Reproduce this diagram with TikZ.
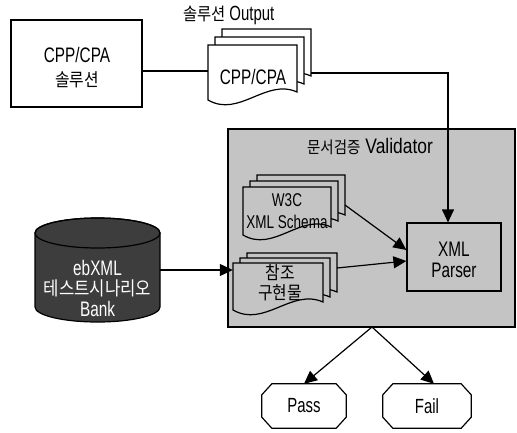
\documentclass[tikz,border=0pt]{standalone}
\usepackage{fontspec}
\setmainfont{Liberation Sans}[FakeStretch=0.73]
\newfontfamily\wide{Liberation Sans}[FakeStretch=0.83]
\newfontfamily\kr{Noto Sans CJK KR}[FakeStretch=0.88]
\usetikzlibrary{arrows.meta}
\definecolor{stip}{gray}{0.77}
\definecolor{bankfill}{gray}{0.24}
\tikzset{
  ln/.style={line width=1.2pt},
  arr/.style={ln,-{Triangle[length=13pt,width=12pt]}},
  boxn/.style={draw,ln,inner sep=0pt},
  anchorbox/.style={inner sep=0pt},
  txt/.style={font=\fontsize{21}{23}\selectfont,align=center,inner sep=0pt},
  krtxt/.style={font=\fontsize{18}{20}\selectfont\kr,align=center,inner sep=0pt},
  endbox/.style={inner sep=0pt,minimum height=44pt,font=\fontsize{20.5}{23}\selectfont},
}
\newcommand\docshape[5]{%
  \filldraw[ln,fill=#5] (#1,#2) -- ({#1+#3},#2) -- ({#1+#3},{#2+#4-8})
    .. controls ({#1+0.65*#3},{#2+#4-22}) and ({#1+0.35*#3},{#2+#4+18}) .. (#1,{#2+#4}) -- cycle;}
\newcommand\chamfer[1]{%
  \draw[ln] ([xshift=10pt]#1.north west) -- ([xshift=-10pt]#1.north east) -- ([yshift=-11pt]#1.north east)
    -- ([yshift=11pt]#1.south east) -- ([xshift=-10pt]#1.south east) -- ([xshift=10pt]#1.south west)
    -- ([yshift=11pt]#1.south west) -- ([yshift=-11pt]#1.north west) -- cycle;}
\begin{document}
\begin{tikzpicture}[x=1pt,y=-1pt]
\useasboundingbox[fill=white] (0,0) rectangle (517,432);

% solution box
\node[boxn,minimum width=131pt,minimum height=87pt] (sol) at (76.5,63.5) {};
\node[txt] (soltxt) at (77,68) {CPP/CPA\\[1pt]{\kr\fontsize{18}{20}\selectfont 솔루션}};

% output label
\node[inner sep=0pt] (outlbl) at (229,15) {{\kr\fontsize{17.5}{19}\selectfont 솔루션}\,\,{\fontsize{20.5}{22}\selectfont Output}};

% validator region
\node[boxn,fill=stip,minimum width=287pt,minimum height=198pt] (valid) at (371.5,228) {};
\node[inner sep=0pt] (validlbl) at (370,147) {{\kr\fontsize{16.5}{18}\selectfont 문서검증}\,\,\,{\wide\fontsize{21}{22}\selectfont Validator}};

% CPP/CPA document stack
\docshape{222}{29}{89}{55}{white}
\docshape{215}{37}{89}{55}{white}
\docshape{208}{45}{89}{55}{white}
\node[anchorbox,minimum width=89pt,minimum height=52pt] (cppdoc) at (252.5,71) {};
\coordinate (cppR) at (311,73);
\node[txt] (cpptxt) at (253,77) {CPP/CPA};

% W3C stack
\docshape{257}{175}{88}{48}{stip}
\docshape{250}{181}{88}{48}{stip}
\docshape{243}{187}{88}{48}{stip}
\node[anchorbox,minimum width=88pt,minimum height=44pt] (w3c) at (287,209) {};
\coordinate (w3cR) at (345,205);
\node[txt,font=\fontsize{18.5}{21.5}\selectfont] (w3ctxt) at (287,211) {W3C\\XML Schema};

% reference implementation stack
\docshape{247}{253}{90}{47}{stip}
\docshape{240}{258}{90}{47}{stip}
\docshape{233}{263}{90}{47}{stip}
\node[anchorbox,minimum width=90pt,minimum height=14pt] (ref) at (278,270) {};
\coordinate (refR) at (337,268);
\node[krtxt] (reftxt) at (280,283) {참조\\구현물};

% XML parser
\node[boxn,fill=stip,minimum width=94pt,minimum height=68pt] (parser) at (454,257) {};
\node[txt,font=\fontsize{21}{21}\selectfont] (parsertxt) at (454,260) {XML\\Parser};

% bank cylinder
\filldraw[ln,fill=bankfill] (35,233) -- (35,307) arc[start angle=180,end angle=360,x radius=62.5,y radius=-15] -- (160,233) arc[start angle=0,end angle=180,x radius=62.5,y radius=-15] -- cycle;
\draw[ln] (97.5,233) ellipse[x radius=62.5,y radius=15];
\node[anchorbox,minimum width=125pt,minimum height=104pt] (bank) at (97.5,270) {};
\node[txt,text=white,font=\fontsize{21}{20.5}\selectfont] (banktxt) at (97.5,288) {ebXML\\{\kr\fontsize{19}{20.5}\selectfont 테스트시나리오}\\Bank};

% Pass / Fail
\node[endbox,minimum width=84pt] (pass) at (304,406) {Pass};
\node[endbox,minimum width=88pt] (fail) at (427,406) {Fail};
\chamfer{pass}
\chamfer{fail}

% connectors
\draw[ln] (sol.east |- cppdoc.west) -- (cppdoc.west);
\draw[arr] (cppR) -| ([xshift=-6pt]parser.north);
\draw[arr] (w3cR) -- ([yshift=7pt]parser.west);
\draw[arr] (refR) -- ([yshift=-4pt]parser.west);
\draw[arr] (bank.east) -- (ref.west);
\coordinate (vbot) at (372,327);
\draw[arr] (vbot) -- (pass.north);
\draw[arr] (vbot) -- ([xshift=7pt]fail.north);
\end{tikzpicture}
\end{document}
